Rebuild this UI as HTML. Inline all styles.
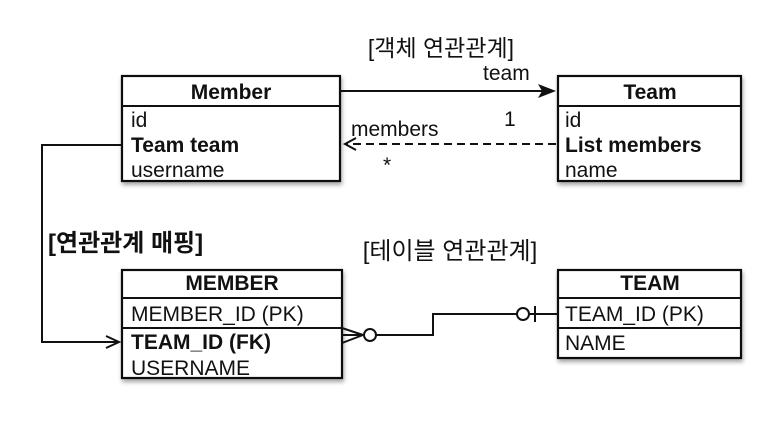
<!DOCTYPE html>
<html><head><meta charset="utf-8"><style>
html,body{margin:0;padding:0;background:#fff;}
svg text{font-family:"Liberation Sans","Noto Sans CJK KR",sans-serif;fill:#111;}
</style></head><body>
<svg width="774" height="430" viewBox="0 0 774 430" xmlns="http://www.w3.org/2000/svg">
<defs>
<filter id="sh" x="-10%" y="-10%" width="130%" height="140%"><feDropShadow dx="1" dy="3" stdDeviation="2" flood-color="#000" flood-opacity="0.35"/></filter>
</defs>
<g fill="#fff" stroke="#111" stroke-width="2.2">
<rect x="122" y="76" width="218" height="105" filter="url(#sh)"/>
<rect x="558" y="76" width="183" height="105" filter="url(#sh)"/>
<rect x="122" y="270" width="220" height="108" filter="url(#sh)"/>
<rect x="558" y="270" width="183" height="88" filter="url(#sh)"/>
</g>
<g stroke="#111" stroke-width="2" fill="none">
<line x1="122" y1="106" x2="340" y2="106"/>
<line x1="558" y1="106" x2="741" y2="106"/>
<line x1="122" y1="298" x2="342" y2="298"/>
<line x1="122" y1="328" x2="342" y2="328"/>
<line x1="558" y1="298" x2="741" y2="298"/>
<line x1="558" y1="328" x2="741" y2="328"/>
<line x1="340" y1="91" x2="552" y2="91"/>
<line x1="556" y1="144" x2="346" y2="144" stroke-dasharray="8,5"/>
<polyline points="356,138 345,144 356,150"/>
<polyline points="122,145 42,145 42,342 118,342"/>
<polyline points="106,336 119,342 106,348"/>
<line x1="342" y1="328" x2="363" y2="335"/>
<line x1="342" y1="335" x2="363" y2="335"/>
<line x1="342" y1="343" x2="363" y2="335"/>
<circle cx="370" cy="335" r="6" fill="#fff"/>
<polyline points="376,335 433,335 433,314 517,314"/>
<circle cx="523" cy="314" r="6" fill="#fff"/>
<line x1="529" y1="314" x2="558" y2="314"/>
<line x1="535" y1="306" x2="535" y2="322"/>
</g>
<polygon points="556,91 538,84 542,91 538,98" fill="#111"/>
<g font-size="21">
<text x="231" y="99" text-anchor="middle" font-weight="bold">Member</text>
<text x="131" y="127">id</text>
<text x="131" y="152" font-weight="bold">Team team</text>
<text x="131" y="177">username</text>
<text x="650" y="99" text-anchor="middle" font-weight="bold">Team</text>
<text x="565" y="127">id</text>
<text x="565" y="152" font-weight="bold">List members</text>
<text x="565" y="177">name</text>
<text x="232" y="290" text-anchor="middle" font-weight="bold">MEMBER</text>
<text x="131" y="321">MEMBER_ID (PK)</text>
<text x="131" y="349" font-weight="bold">TEAM_ID (FK)</text>
<text x="131" y="375">USERNAME</text>
<text x="650" y="290" text-anchor="middle" font-weight="bold">TEAM</text>
<text x="565" y="321">TEAM_ID (PK)</text>
<text x="565" y="350">NAME</text>
<text x="483" y="80">team</text>
<text x="504" y="126">1</text>
<text x="351" y="136">members</text>
<text x="383" y="172">*</text>
</g>
<text x="441" y="56" text-anchor="middle" font-size="23">[객체 연관관계]</text>
<text x="48" y="251" font-weight="bold" font-size="24">[연관관계 매핑]</text>
<text x="450" y="259" text-anchor="middle" font-size="24">[테이블 연관관계]</text>
</svg>
</body></html>
